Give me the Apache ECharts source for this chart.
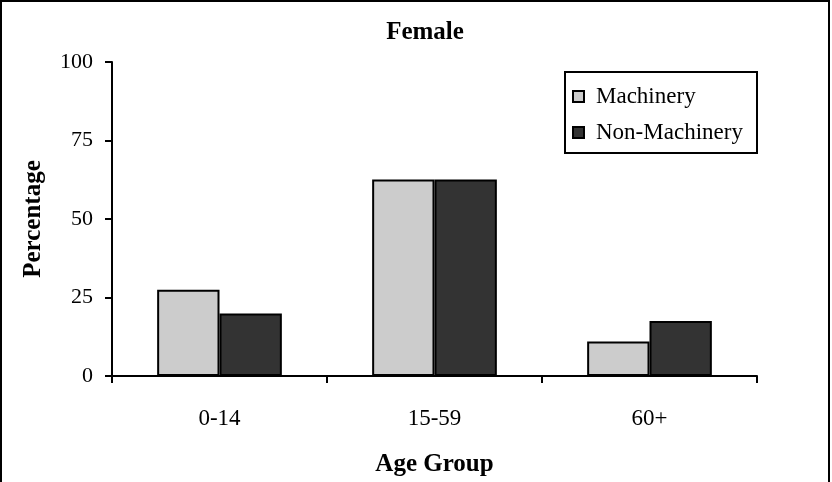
<!DOCTYPE html>
<html>
<head>
<meta charset="utf-8">
<script src="https://cdn.jsdelivr.net/npm/echarts@6/dist/echarts.min.js"></script>
<style>
html,body{margin:0;padding:0;background:#fff;}
#chart{width:832px;height:482px;}
</style>
</head>
<body>
<div id="chart"></div>
<script>
var categories = ['0-14', '15-59', '60+'];
var machinery = [27.5, 62.6, 11.0];
var nonMachinery = [19.9, 62.6, 17.5];
var seriesNames = ['Machinery', 'Non-Machinery'];
var yTicks = [0, 25, 50, 75, 100];

var FONT = '"Liberation Serif", "Times New Roman", serif';
var chart = echarts.init(document.getElementById('chart'), null, {renderer: 'canvas'});
chart.setOption({
  backgroundColor: '#ffffff',
  animation: false,
  textStyle: {fontFamily: FONT, color: '#000'},
  title: {
    text: 'Female',
    left: 420, top: 15,
    textAlign: 'center',
    textStyle: {fontFamily: FONT, fontSize: 25, fontWeight: 'bold', color: '#000', lineHeight: 25}
  },
  graphic: [
    {type: 'rect', shape: {x: 1, y: 1, width: 828, height: 500}, style: {fill: 'none', stroke: '#000', lineWidth: 2}, silent: true, z: 100},
    {type: 'rect', shape: {x: 565, y: 72, width: 192, height: 81}, style: {fill: '#fff', stroke: '#000', lineWidth: 2}, silent: true, z: 1}
  ],
  legend: {
    orient: 'vertical',
    left: 565, top: 72,
    padding: [13, 5, 9, 7],
    itemWidth: 11, itemHeight: 11,
    itemGap: 13,
    icon: 'rect',
    z: 5,
    textStyle: {fontFamily: FONT, fontSize: 23, color: '#000', lineHeight: 23, padding: [0, 0, 0, 7]},
    data: seriesNames
  },
  grid: {left: 112, right: 75, top: 62, bottom: 105, containLabel: false},
  xAxis: {
    type: 'category',
    data: categories,
    name: 'Age Group',
    nameLocation: 'middle',
    nameGap: 76,
    nameTextStyle: {fontFamily: FONT, fontSize: 25, fontWeight: 'bold', color: '#000', lineHeight: 25},
    axisLine: {lineStyle: {color: '#000', width: 2}},
    axisTick: {show: true, alignWithLabel: false, length: 7, lineStyle: {color: '#000', width: 2}},
    axisLabel: {margin: 31, fontFamily: FONT, fontSize: 23, color: '#000', lineHeight: 23},
    splitLine: {show: false}
  },
  yAxis: {
    type: 'value',
    min: yTicks[0], max: yTicks[yTicks.length - 1], interval: 25,
    name: 'Percentage',
    nameLocation: 'middle',
    nameGap: 66,
    nameRotate: 90,
    nameTextStyle: {fontFamily: FONT, fontSize: 25, fontWeight: 'bold', color: '#000', lineHeight: 25},
    axisLine: {show: true, lineStyle: {color: '#000', width: 2}},
    axisTick: {show: true, length: 7, lineStyle: {color: '#000', width: 2}},
    axisLabel: {margin: 19, fontFamily: FONT, fontSize: 22, color: '#000'},
    splitLine: {show: false}
  },
  series: [
    {
      name: seriesNames[0], type: 'bar', data: machinery,
      barGap: '0%', barCategoryGap: '42%',
      itemStyle: {color: '#cccccc', borderColor: '#000', borderWidth: 2}
    },
    {
      name: seriesNames[1], type: 'bar', data: nonMachinery,
      barGap: '0%', barCategoryGap: '42%',
      itemStyle: {color: '#333333', borderColor: '#000', borderWidth: 2}
    }
  ]
});
</script>
</body>
</html>
